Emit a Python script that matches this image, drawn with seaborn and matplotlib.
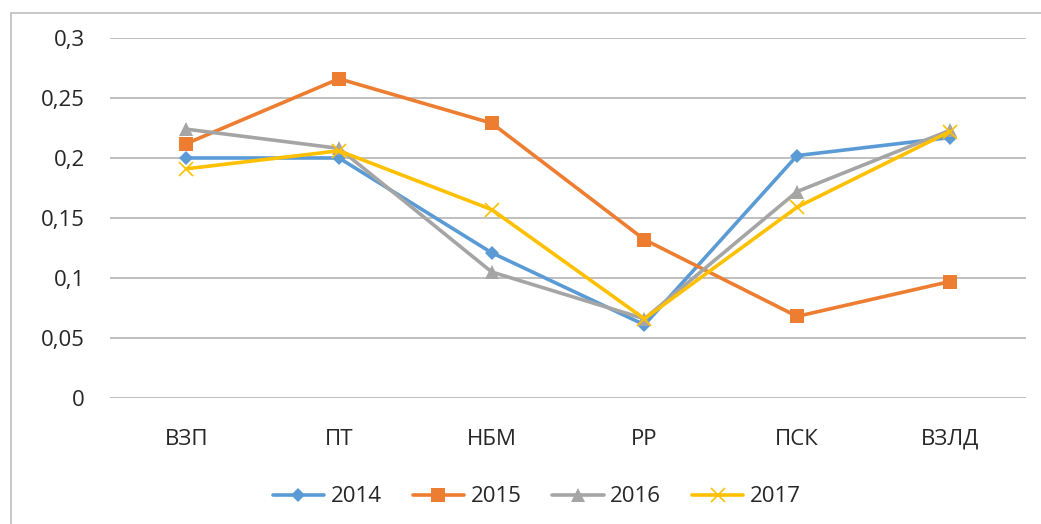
import matplotlib
matplotlib.use('Agg')
import matplotlib.pyplot as plt
import seaborn as sns
from matplotlib.lines import Line2D
from matplotlib.ticker import FuncFormatter

categories = ['ВЗП', 'ПТ', 'НБМ', 'РР', 'ПСК', 'ВЗЛД']
years = ['2014', '2015', '2016', '2017']
v2014 = [0.200, 0.200, 0.121, 0.061, 0.202, 0.217]
v2015 = [0.212, 0.266, 0.229, 0.132, 0.068, 0.097]
v2016 = [0.224, 0.208, 0.105, 0.066, 0.172, 0.223]
v2017 = [0.191, 0.206, 0.157, 0.066, 0.159, 0.222]
series = [v2014, v2015, v2016, v2017]

colors = ['#5B9BD5', '#ED7D31', '#A5A5A5', '#FFC000']
markers = ['D', 's', '^', 'x']
msizes = [7.5, 10.5, 9.5, 10.5]

sns.set_style('white')
plt.rcParams['font.family'] = ['Open Sans', 'DejaVu Sans']

fig = plt.figure(figsize=(10.41, 5.24), dpi=100)
ax = fig.add_axes([0.1057, 0.2405, 0.88, 0.687])

for yr, vals, c, m, ms in zip(years, series, colors, markers, msizes):
    sns.lineplot(x=categories, y=vals, ax=ax, color=c, marker=m, markersize=ms,
                 markeredgecolor=c, markeredgewidth=1.2 if m == 'x' else 0,
                 linewidth=2.6, label=yr, sort=False)

ax.set_ylim(0, 0.3)
ax.set_xlim(-0.5, 5.5)
ax.set_yticks([0, 0.05, 0.1, 0.15, 0.2, 0.25, 0.3])
ax.yaxis.set_major_formatter(FuncFormatter(lambda v, p: f'{v:g}'.replace('.', ',')))
ax.grid(axis='y', color='#BFBFBF', linewidth=1.4)
ax.set_axisbelow(True)
for s in ax.spines.values():
    s.set_visible(False)
ax.tick_params(axis='y', length=0, pad=18, labelsize=16, labelcolor='#262626')
ax.tick_params(axis='x', length=0, pad=22, labelsize=16, labelcolor='#262626')
ax.set_xlabel('')
ax.set_ylabel('')

ax.legend(loc='upper center', bbox_to_anchor=(0.466, -0.19), ncol=4, frameon=False,
          fontsize=16, handlelength=2.3, handletextpad=0.3, columnspacing=1.4,
          labelcolor='#262626')

# outer frame of the chart area
fig.add_artist(Line2D([11 / 1041, 11 / 1041], [0, 1 - 13 / 524], color='#BFBFBF', linewidth=1.2))
fig.add_artist(Line2D([11 / 1041, 1], [1 - 13 / 524, 1 - 13 / 524], color='#BFBFBF', linewidth=1.2))

fig.savefig('out.png', dpi=100)
